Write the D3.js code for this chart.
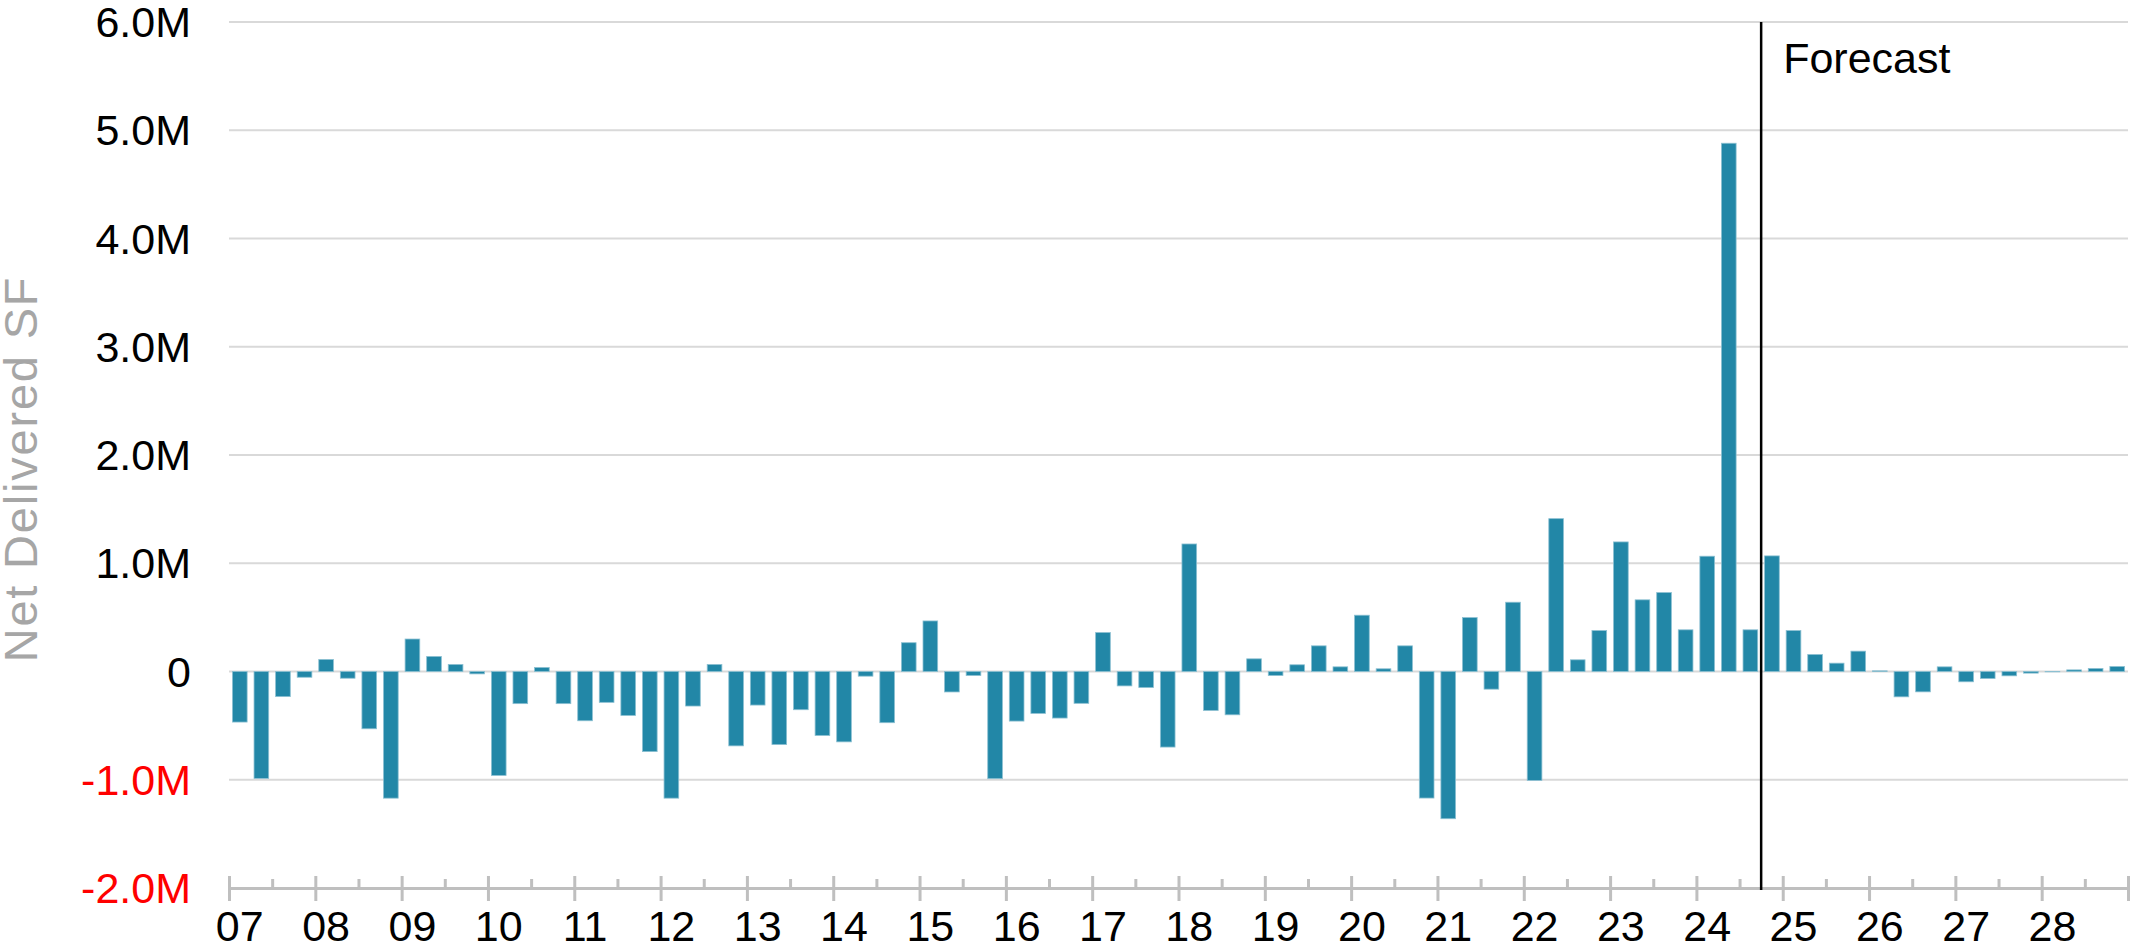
<!DOCTYPE html>
<html lang="en">
<head>
<meta charset="UTF-8">
<title>Net Delivered SF</title>
<style>
	body{margin:0;background:#fff;}
	text{font-family:"Liberation Sans",Arial,sans-serif;}
</style>
</head>
<body>
<script src="https://cdn.jsdelivr.net/npm/d3@7"></script>
<script>
	// years shown on the x axis, 4 quarters each
	var years=d3.range(2007,2029);
	var quarters=[];
	years.forEach(function(y){
		for(var q=1;q<=4;q++){ quarters.push(y+' Q'+q); }
	});

	// net delivered square feet per quarter, in millions
	var values=[
		-0.467,-0.988,-0.232,-0.053,   // 07
		0.111,-0.062,-0.529,-1.17,     // 08
		0.30,0.139,0.065,-0.022,       // 09
		-0.96,-0.297,0.037,-0.297,     // 10
		-0.455,-0.285,-0.406,-0.74,    // 11
		-1.17,-0.319,0.065,-0.687,     // 12
		-0.31,-0.675,-0.353,-0.591,    // 13
		-0.65,-0.043,-0.473,0.266,     // 14
		0.467,-0.189,-0.037,-0.99,     // 15
		-0.458,-0.387,-0.43,-0.294,    // 16
		0.36,-0.133,-0.148,-0.698,     // 17
		1.178,-0.36,-0.40,0.117,       // 18
		-0.037,0.062,0.237,0.043,      // 19
		0.52,0.025,0.237,-1.169,       // 20
		-1.36,0.498,-0.163,0.64,       // 21
		-1.006,1.412,0.108,0.378,      // 22
		1.197,0.662,0.729,0.385,       // 23
		1.065,4.88,0.385,1.068,        // 24
		0.378,0.157,0.077,0.188,       // 25
		0.006,-0.234,-0.188,0.043,     // 26
		-0.095,-0.065,-0.04,-0.015,    // 27
		-0.003,0.015,0.028,0.046       // 28
	];

	var yTickValues=[-2,-1,0,1,2,3,4,5,6];
	var yTickLabels=['-2.0M','-1.0M','0','1.0M','2.0M','3.0M','4.0M','5.0M','6.0M'];
	var yearLabels=['07','08','09','10','11','12','13','14','15','16','17','18','19','20','21','22','23','24','25','26','27','28'];
	var forecastStart='2024 Q4';

	var width=2130;
	var height=947;
	var plot={left:229,right:2128,top:22,bottom:888};

	var svg=d3.select('body')
			.append('svg')
			.attr('width',width)
			.attr('height',height);

	var xScale=d3.scaleBand()
			.domain(quarters)
			.range([plot.left,plot.right])
			.paddingInner(0.32)
			.paddingOuter(0.16);
	var step=xScale.step();

	var yearScale=d3.scaleLinear()
			.domain([2007,2029])
			.range([plot.left,plot.right]);

	var yScale=d3.scaleLinear()
			.domain([-2,6])
			.range([plot.bottom,plot.top]);

	// gridlines
	svg.append('g')
		.selectAll('line')
		.data(yTickValues.filter(function(d){return d>-2;}))
		.enter()
		.append('line')
		.attr('x1',plot.left)
		.attr('x2',plot.right)
		.attr('y1',function(d){return yScale(d);})
		.attr('y2',function(d){return yScale(d);})
		.attr('stroke','#d9d9d9')
		.attr('stroke-width',2);

	// y labels
	svg.append('g')
		.selectAll('text')
		.data(yTickValues)
		.enter()
		.append('text')
		.attr('x',191)
		.attr('y',function(d){return yScale(d);})
		.attr('dy','0.35em')
		.attr('text-anchor','end')
		.attr('font-size','43px')
		.attr('fill',function(d){return d<0?'#ff0000':'#000';})
		.text(function(d,i){return yTickLabels[i];});

	svg.append('text')
		.attr('transform','translate(37,469) rotate(-90)')
		.attr('text-anchor','middle')
		.attr('font-size','47px')
		.attr('letter-spacing','1.8px')
		.attr('fill','#a6a6a6')
		.text('Net Delivered SF');

	// bars
	svg.append('g')
		.selectAll('rect')
		.data(values)
		.enter()
		.append('rect')
		.attr('x',function(d,i){return xScale(quarters[i]);})
		.attr('y',function(d){return yScale(Math.max(0,d));})
		.attr('width',xScale.bandwidth())
		.attr('height',function(d){return Math.abs(yScale(d)-yScale(0));})
		.attr('fill','#2287a7')
		.attr('stroke','#8cc0d2')
		.attr('stroke-width',0.8);

	// x axis: major ticks per year, minor per half year
	var majorAxis=d3.axisBottom(yearScale)
			.tickValues(d3.range(2007,2030))
			.tickSize(0)
			.tickFormat('');
	var gx=svg.append('g')
		.attr('transform','translate(0,'+plot.bottom+')')
		.call(majorAxis);
	gx.select('.domain')
		.attr('stroke','#bfbfbf')
		.attr('stroke-width',3);
	gx.selectAll('.tick line')
		.attr('y1',-12)
		.attr('y2',13)
		.attr('stroke','#bfbfbf')
		.attr('stroke-width',3);

	var minorAxis=d3.axisBottom(yearScale)
			.tickValues(years.map(function(y){return y+0.5;}))
			.tickSize(-9)
			.tickFormat('');
	var gm=svg.append('g')
		.attr('transform','translate(0,'+plot.bottom+')')
		.call(minorAxis);
	gm.select('.domain').remove();
	gm.selectAll('.tick line')
		.attr('stroke','#bfbfbf')
		.attr('stroke-width',3);

	// year labels centred on the first quarter
	svg.append('g')
		.selectAll('text')
		.data(yearLabels)
		.enter()
		.append('text')
		.attr('x',function(d,i){return xScale(quarters[i*4])+xScale.bandwidth()/2;})
		.attr('y',941)
		.attr('text-anchor','middle')
		.attr('font-size','43px')
		.attr('fill','#000')
		.text(function(d){return d;});

	// forecast divider
	var fx=xScale(forecastStart)-step*xScale.paddingInner()/2;
	svg.append('line')
		.attr('x1',fx)
		.attr('x2',fx)
		.attr('y1',plot.top)
		.attr('y2',plot.bottom+2)
		.attr('stroke','#000')
		.attr('stroke-width',2.5);
	svg.append('text')
		.attr('x',fx+22)
		.attr('y',73)
		.attr('font-size','43px')
		.attr('fill','#000')
		.text('Forecast');
</script>
</body>
</html>
